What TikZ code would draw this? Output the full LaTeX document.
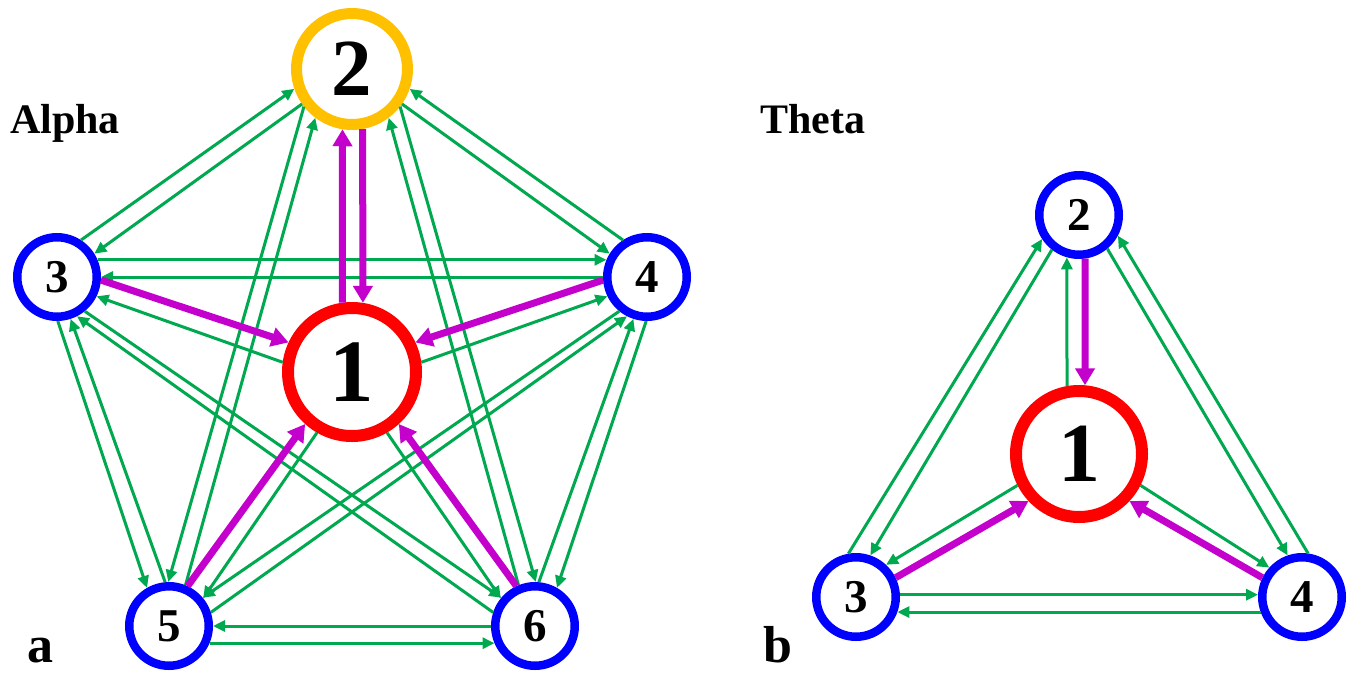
\documentclass[tikz,border=0pt]{standalone}
\usepackage{fontspec}
\setmainfont{Liberation Serif}
\usetikzlibrary{arrows.meta}
\definecolor{ringblue}{RGB}{0,0,255}
\definecolor{ringred}{RGB}{255,0,0}
\definecolor{ringgold}{RGB}{255,192,0}
\definecolor{linkgreen}{RGB}{0,168,80}
\definecolor{linkmag}{RGB}{196,0,204}
\begin{document}
\begin{tikzpicture}[x=1pt,y=-1pt,
  vtx/.style={circle,draw,fill=white,inner sep=0pt},
  bluering/.style={vtx,draw=ringblue,line width=8.5pt,minimum size=79.5pt,
    font=\fontsize{47}{47}\selectfont\bfseries},
  redring/.style={vtx,draw=ringred,line width=12pt,minimum size=128pt,
    font=\fontsize{89}{89}\selectfont\bfseries},
  goldring/.style={vtx,draw=ringgold,line width=11pt,minimum size=111pt,
    font=\fontsize{81}{81}\selectfont\bfseries},
  gline/.style={draw=linkgreen,line width=3pt,-{Triangle[length=12pt,width=11pt]}},
  mline/.style={draw=linkmag,line width=7pt,-{Triangle[length=17pt,width=19pt]}},
  title/.style={anchor=base west,inner sep=0pt,font=\fontsize{42}{42}\selectfont\bfseries},
  panel/.style={anchor=base west,inner sep=0pt,font=\fontsize{52}{52}\selectfont\bfseries},
]
\useasboundingbox[fill=white] (0,0) rectangle (1355,675);

% ---------- panel a ----------
\node[title] (alpha) at (10,133) {Alpha};
\node[panel] (pa) at (27,662) {a};

\node[goldring] (a2) at (352,69) {2};
\node[redring]  (a1) at (352,372) {1};
\node[bluering] (a3) at (57,277) {3};
\node[bluering] (a4) at (647,277) {4};
\node[bluering] (a5) at (169,626) {5};
\node[bluering] (a6) at (535,626) {6};

% links between the outer nodes
\draw[gline] (a3.57)  -- (a2.199);
\draw[gline] (a2.215) -- (a3.32);
\draw[gline] (a4.123) -- (a2.-19);
\draw[gline] (a2.-35) -- (a4.148);
\draw[gline] (a2.218) -- (a5.91);
\draw[gline] (a5.68)  -- (a2.233);
\draw[gline] (a2.-38) -- (a6.89);
\draw[gline] (a6.112) -- (a2.-53);
\draw[gline] (a3.-89) -- (a5.120);
\draw[gline] (a5.95)  -- (a3.-72);
\draw[gline] (a4.269) -- (a6.60);
\draw[gline] (a6.85)  -- (a4.252);
\draw[gline] (a3.23)  -- (a4.157);
\draw[gline] (a4.180) -- (a3.0);
\draw[gline] (a6.180) -- (a5.0);
\draw[gline] (a5.-23) -- (a6.203);
\draw[gline] (a4.231) -- (a5.40);
\draw[gline] (a5.18)  -- (a4.243);
\draw[gline] (a3.-51) -- (a6.140);
\draw[gline] (a6.162) -- (a3.-63);
% links leaving the centre node
\draw[gline] (a1.172) -- (a3.-26);
\draw[gline] (a1.8)   -- (a4.206);
\draw[gline] (a1.240) -- (a5.39);
\draw[gline] (a1.-60) -- (a6.141);
% dominant links
\draw[mline] (a1.98)  -- (a2.261);
\draw[mline] (a2.280) -- (a1.81);
\draw[mline] (a3.-4)  -- (a1.155);
\draw[mline] (a4.184) -- (a1.25);
\draw[mline] (a5.65)  -- (a1.228);
\draw[mline] (a6.115) -- (a1.-48);

% ---------- panel b ----------
\node[title] (theta) at (760,133) {Theta};
\node[panel] (pb) at (763,662) {b};

\node[bluering] (b2) at (1079,215) {2};
\node[redring,minimum size=126pt,font=\fontsize{84}{84}\selectfont\bfseries] (b1) at (1079,454) {1};
\node[bluering] (b3) at (856,597) {3};
\node[bluering] (b4) at (1302,597) {4};

\draw[gline] (b3.100) -- (b2.213);
\draw[gline] (b2.232) -- (b3.71);
\draw[gline] (b4.82)  -- (b2.-28);
\draw[gline] (b2.-50) -- (b4.109);
\draw[gline] (b3.3)   -- (b4.177);
\draw[gline] (b4.200) -- (b3.-20);
\draw[gline] (b1.100) -- (b2.254);
\draw[gline] (b1.207) -- (b3.47);
\draw[gline] (b1.-27) -- (b4.138);
\draw[mline] (b2.278) -- (b1.85);
\draw[mline] (b3.26)  -- (b1.223);
\draw[mline] (b4.154) -- (b1.-43);
\end{tikzpicture}
\end{document}
